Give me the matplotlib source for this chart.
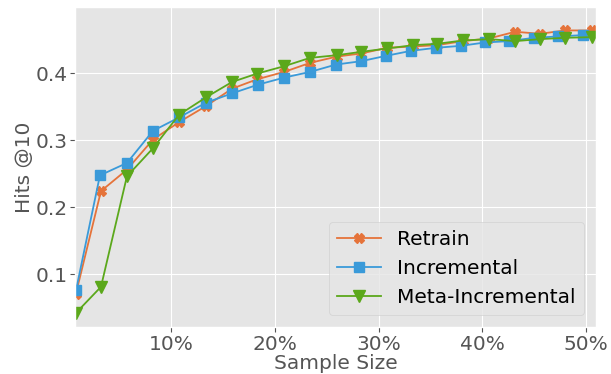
import matplotlib
matplotlib.use("Agg")
import matplotlib.pyplot as plt
from matplotlib.ticker import FuncFormatter

plt.style.use("ggplot")

# sample sizes (%)
x_retrain = [0.84, 3.25, 5.75, 8.26, 10.77, 13.37, 15.88, 18.29, 20.89, 23.39, 25.99,
             28.31, 30.82, 33.32, 35.63, 38.14, 40.65, 43.15, 45.56, 47.97, 50.57]
x_incr = [0.84, 3.15, 5.75, 8.26, 10.77, 13.37, 15.88, 18.38, 20.89, 23.39, 25.89,
          28.30, 30.71, 33.12, 35.53, 37.94, 40.26, 42.57, 44.98, 47.29, 49.70]
x_meta = x_retrain

retrain = [0.071, 0.224, 0.256, 0.301, 0.327, 0.351, 0.377, 0.391, 0.402, 0.4155, 0.425,
           0.4295, 0.438, 0.440, 0.442, 0.448, 0.452, 0.462, 0.459, 0.464, 0.464]
incremental = [0.0756, 0.2475, 0.266, 0.314, 0.334, 0.356, 0.370, 0.383, 0.3935, 0.402, 0.413,
               0.418, 0.426, 0.4335, 0.438, 0.441, 0.446, 0.448, 0.453, 0.455, 0.457]
meta = [0.042, 0.081, 0.246, 0.288, 0.338, 0.364, 0.387, 0.3995, 0.4105, 0.423, 0.427,
        0.432, 0.437, 0.442, 0.444, 0.449, 0.451, 0.448, 0.451, 0.453, 0.454]

fig = plt.figure(figsize=(6.11, 3.74), dpi=100)
ax = fig.add_axes([0.1228, 0.1257, 0.8527, 0.8556])

ax.plot(x_retrain, retrain, color="#E5733A", marker="X", markersize=6.5, lw=1.3, label="Retrain")
ax.plot(x_incr, incremental, color="#3A9AD9", marker="s", markersize=7, lw=1.3, label="Incremental")
ax.plot(x_meta, meta, color="#5BA81B", marker="v", markersize=8.5, lw=1.3, label="Meta-Incremental")

ax.set_xlim(0.75, 50.95)
ax.set_ylim(0.021, 0.499)
ax.set_xticks([10, 20, 30, 40, 50])
ax.set_yticks([0.1, 0.2, 0.3, 0.4])
ax.xaxis.set_major_formatter(FuncFormatter(lambda v, p: f"{v:.0f}%"))
ax.tick_params(labelsize=14.5, colors="#555555", pad=2)

ax.set_xlabel("Sample Size", fontsize=14.5, color="#555555", labelpad=0)
ax.set_ylabel("Hits @10", fontsize=14.5, color="#555555", labelpad=1)

leg = ax.legend(loc="lower right", fontsize=14.5, handlelength=2.2,
                borderaxespad=0.6)
for t in leg.get_texts():
    t.set_color("black")

fig.savefig("out.png", dpi=100)
